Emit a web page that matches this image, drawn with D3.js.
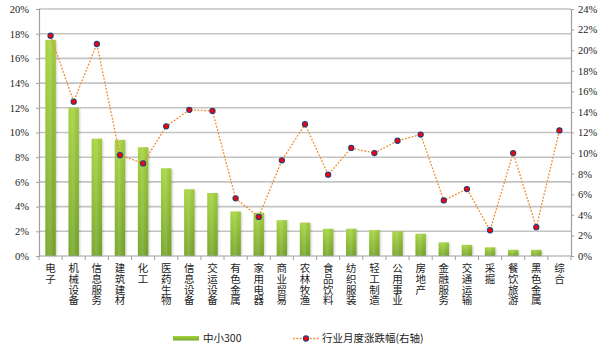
<!DOCTYPE html>
<html>
<head>
<meta charset="utf-8">
<script src="https://cdn.jsdelivr.net/npm/d3@7/dist/d3.min.js"></script>
<style>
  html, body { margin: 0; padding: 0; background: #fff; }
  svg { display: block; }
</style>
</head>
<body>
<svg id="chart" width="605" height="349"></svg>
<script>
// Industry categories
const categories = ["电子","机械设备","信息服务","建筑建材","化工","医药生物","信息设备","交运设备","有色金属","家用电器","商业贸易","农林牧渔","食品饮料","纺织服装","轻工制造","公用事业","房地产","金融服务","交通运输","采掘","餐饮旅游","黑色金属","综合"];
// 中小300 weights (%), left axis
const weightValues = [17.5,12.0,9.5,9.4,8.8,7.1,5.4,5.1,3.6,3.5,2.9,2.7,2.2,2.2,2.1,2.0,1.8,1.1,0.9,0.7,0.5,0.5,0];
// Monthly industry change (%), right axis
const changeValues = [21.4,15.0,20.6,9.8,9.0,12.6,14.2,14.1,5.6,3.8,9.3,12.8,7.9,10.5,10.0,11.2,11.8,5.4,6.5,2.5,10.0,2.8,12.2];
// Axis ticks
const leftTicks = [0,2,4,6,8,10,12,14,16,18,20];
const rightTicks = [0,2,4,6,8,10,12,14,16,18,20,22,24];
const seriesNames = ["中小300","行业月度涨跌幅(右轴)"];

const svg = d3.select("#chart");
const plot = { left: 39, right: 571, top: 9, bottom: 256 };

const x = d3.scaleBand().domain(categories).range([plot.left, plot.right])
  .paddingInner(0.55).paddingOuter(0.275);
const yL = d3.scaleLinear().domain([0, 20]).range([plot.bottom, plot.top]);
const yR = d3.scaleLinear().domain([0, 24]).range([plot.bottom, plot.top]);

const defs = svg.append("defs");
const grad = defs.append("linearGradient").attr("id", "barGrad")
  .attr("x1", 0).attr("y1", 0).attr("x2", 0).attr("y2", 1);
grad.append("stop").attr("offset", "0%").attr("stop-color", "#a6d440");
grad.append("stop").attr("offset", "100%").attr("stop-color", "#78a82c");
const hgrad = defs.append("linearGradient").attr("id", "barSheen")
  .attr("x1", 0).attr("y1", 0).attr("x2", 1).attr("y2", 0);
hgrad.append("stop").attr("offset", "0%").attr("stop-color", "#ffffff").attr("stop-opacity", 0.0);
hgrad.append("stop").attr("offset", "45%").attr("stop-color", "#ffffff").attr("stop-opacity", 0.12);
hgrad.append("stop").attr("offset", "100%").attr("stop-color", "#000000").attr("stop-opacity", 0.05);
defs.append("filter").attr("id", "soft").attr("x", "-50%").attr("y", "-50%").attr("width", "200%").attr("height", "200%")
  .append("feGaussianBlur").attr("stdDeviation", 0.9);

// Horizontal gridlines (left axis ticks)
svg.append("g").selectAll("line").data(leftTicks.filter(d => d > 0)).join("line")
  .attr("x1", plot.left).attr("x2", plot.right)
  .attr("y1", d => yL(d)).attr("y2", d => yL(d))
  .attr("stroke", "#c3c3c3").attr("stroke-width", 1.6);

// Bars with a soft shadow
const bars = svg.append("g");
bars.selectAll("rect.shadow").data(categories).join("rect")
  .attr("class", "shadow")
  .attr("x", d => x(d) + 1.2)
  .attr("y", (d, i) => yL(weightValues[i]) + 0.8)
  .attr("width", x.bandwidth())
  .attr("height", (d, i) => Math.max(0, yL(0) - yL(weightValues[i]) - 0.8))
  .attr("fill", "#000").attr("opacity", (d, i) => weightValues[i] > 0 ? 0.18 : 0)
  .attr("filter", "url(#soft)");
bars.selectAll("rect.bar").data(categories).join("rect")
  .attr("class", "bar")
  .attr("x", d => x(d))
  .attr("y", (d, i) => yL(weightValues[i]))
  .attr("width", x.bandwidth())
  .attr("height", (d, i) => yL(0) - yL(weightValues[i]))
  .attr("fill", "url(#barGrad)");
bars.selectAll("rect.sheen").data(categories).join("rect")
  .attr("class", "sheen")
  .attr("x", d => x(d))
  .attr("y", (d, i) => yL(weightValues[i]))
  .attr("width", x.bandwidth())
  .attr("height", (d, i) => yL(0) - yL(weightValues[i]))
  .attr("fill", "url(#barSheen)");

// Axes
const tickFont = "'Liberation Serif', 'DejaVu Serif', serif";
const leftAxis = svg.append("g").attr("transform", `translate(${plot.left},0)`)
  .call(d3.axisLeft(yL).tickValues(leftTicks).tickFormat(d => d + "%").tickSize(3).tickPadding(7));
const rightAxis = svg.append("g").attr("transform", `translate(${plot.right},0)`)
  .call(d3.axisRight(yR).tickValues(rightTicks).tickFormat(d => d + "%").tickSize(3).tickPadding(4));
[leftAxis, rightAxis].forEach(g => {
  g.select(".domain").attr("stroke", "#a0a0a0").attr("stroke-width", 1.2);
  g.selectAll(".tick line").attr("stroke", "#a0a0a0");
  g.selectAll("text").attr("font-family", tickFont).attr("font-size", 10.5).attr("fill", "#222");
});

// Bottom axis with tick marks between categories
const bottom = svg.append("g");
bottom.append("line").attr("x1", plot.left).attr("x2", plot.right)
  .attr("y1", plot.bottom).attr("y2", plot.bottom)
  .attr("stroke", "#a0a0a0").attr("stroke-width", 1.2);
const step = x.step();
bottom.selectAll("line.tk").data(d3.range(categories.length + 1)).join("line")
  .attr("class", "tk")
  .attr("x1", i => plot.left + i * step)
  .attr("x2", i => plot.left + i * step)
  .attr("y1", plot.bottom).attr("y2", plot.bottom + 4)
  .attr("stroke", "#a0a0a0").attr("stroke-width", 1);

// Vertical category labels: one character per row, stacked downward
const labelFont = "'Noto Sans CJK SC', 'Noto Sans', sans-serif";
const labelChars = categories.flatMap((c, i) =>
  Array.from(c).map((ch, j) => ({ cat: c, ch, j })));
svg.append("g").selectAll("text").data(labelChars).join("text")
  .attr("x", d => x(d.cat) + x.bandwidth() / 2)
  .attr("y", d => 272 + d.j * 10.8)
  .attr("text-anchor", "middle")
  .attr("font-family", labelFont).attr("font-size", 10.5).attr("fill", "#222")
  .text(d => d.ch);

// Line series on the right axis
const cx = (d, i) => x(categories[i]) + x.bandwidth() / 2;
const line = d3.line().x((d, i) => cx(d, i)).y(d => yR(d));
svg.append("path").datum(changeValues)
  .attr("d", line).attr("fill", "none")
  .attr("stroke", "#f08a2c").attr("stroke-width", 1.3)
  .attr("stroke-dasharray", "1.8,1.6");
svg.append("g").selectAll("circle").data(changeValues).join("circle")
  .attr("cx", (d, i) => cx(d, i)).attr("cy", d => yR(d)).attr("r", 2.6)
  .attr("fill", "#ff0000").attr("stroke", "#24407e").attr("stroke-width", 1.1);

// Legend
const leg = svg.append("g");
leg.append("rect").attr("x", 173).attr("y", 336).attr("width", 26).attr("height", 4.5)
  .attr("fill", "url(#barGrad)");
leg.append("text").attr("x", 203).attr("y", 342)
  .attr("font-family", labelFont).attr("font-size", 10.5).attr("fill", "#222").text(seriesNames[0]);
leg.append("line").attr("x1", 293).attr("x2", 320).attr("y1", 338.5).attr("y2", 338.5)
  .attr("stroke", "#f08a2c").attr("stroke-width", 1.3).attr("stroke-dasharray", "1.8,1.6");
leg.append("circle").attr("cx", 306).attr("cy", 338.5).attr("r", 2.6)
  .attr("fill", "#ff0000").attr("stroke", "#24407e").attr("stroke-width", 1.1);
leg.append("text").attr("x", 322).attr("y", 342)
  .attr("font-family", labelFont).attr("font-size", 10.5).attr("fill", "#222").text(seriesNames[1]);
</script>
</body>
</html>
